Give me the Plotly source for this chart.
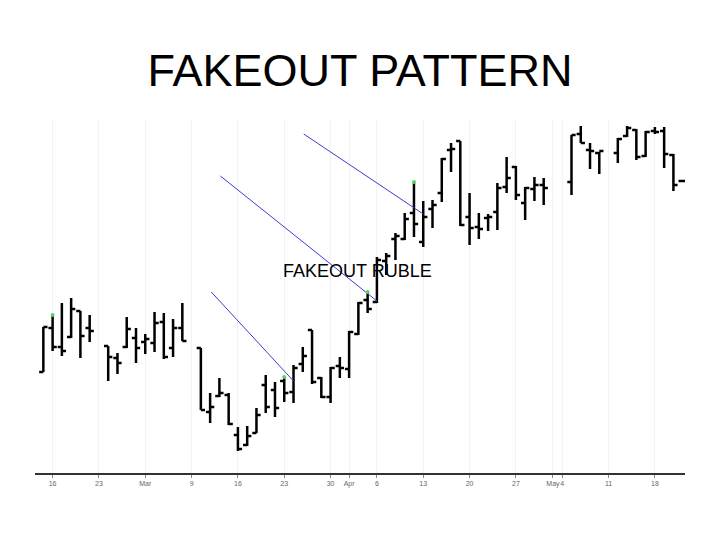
import plotly.graph_objects as go

# daily bars (price in chart units, axis hidden)
dates = ["2009-02-13", "2009-02-16", "2009-02-17", "2009-02-18", "2009-02-19", "2009-02-20",
         "2009-02-24", "2009-02-25", "2009-02-26", "2009-02-27",
         "2009-03-02", "2009-03-03", "2009-03-04", "2009-03-05", "2009-03-06",
         "2009-03-10", "2009-03-11", "2009-03-12", "2009-03-13",
         "2009-03-16", "2009-03-17", "2009-03-18", "2009-03-19", "2009-03-20",
         "2009-03-23", "2009-03-24", "2009-03-25", "2009-03-26", "2009-03-27",
         "2009-03-30", "2009-03-31", "2009-04-01", "2009-04-02", "2009-04-03",
         "2009-04-06", "2009-04-07", "2009-04-08", "2009-04-09", "2009-04-10",
         "2009-04-13", "2009-04-14", "2009-04-15", "2009-04-16", "2009-04-17",
         "2009-04-20", "2009-04-21", "2009-04-22", "2009-04-23", "2009-04-24",
         "2009-04-27", "2009-04-28", "2009-04-29", "2009-04-30",
         "2009-05-05", "2009-05-06", "2009-05-07", "2009-05-08",
         "2009-05-12", "2009-05-13", "2009-05-14", "2009-05-15",
         "2009-05-18", "2009-05-19", "2009-05-20", "2009-05-21"]

opens = [128, 172, 153, 163, 189, 172,
         154, 142, 153, 162,
         158, 157, 178, 152, 172,
         152, 88, 104, 105,
         65, 55, 67, 115, 110,
         119, 108, 136, 170, 122,
         103, 134, 131, 166, 200,
         198, 239, 261, 261, 287,
         258, 291, 307, 350, 359,
         283, 273, 282, 288, 313,
         333, 297, 311, 315,
         318, 366, 350, 347,
         347, 364, 370, 344,
         369, 369, 345, 319]

highs = [173, 186, 197, 202, 189, 185,
         154, 147, 183, 172,
         166, 188, 187, 181, 197,
         152, 107, 122, 107,
         73, 74, 92, 125, 118,
         123, 135, 153, 170, 123,
         133, 143, 169, 198, 208,
         243, 247, 267, 287, 318,
         299, 300, 342, 357, 359,
         307, 287, 286, 317, 343,
         334, 313, 323, 322,
         365, 374, 357, 348,
         362, 374, 371, 369,
         373, 373, 346, 319]

lows = [128, 149, 144, 162, 142, 158,
        119, 126, 152, 137,
        146, 148, 141, 143, 159,
        90, 77, 103, 75,
        49, 54, 67, 87, 83,
        98, 97, 128, 116, 102,
        97, 122, 122, 165, 187,
        197, 225, 240, 260, 263,
        253, 272, 298, 328, 274,
        255, 261, 269, 270, 307,
        300, 280, 299, 295,
        305, 357, 331, 326,
        337, 363, 340, 343,
        366, 332, 309, 319]

closes = [173, 153, 149, 191, 164, 169,
          143, 137, 171, 152,
          161, 177, 143, 172, 159,
          90, 93, 107, 76,
          51, 64, 85, 93, 92,
          107, 132, 144, 118, 103,
          132, 132, 168, 197, 191,
          240, 244, 264, 281, 276,
          283, 295, 341, 351, 275,
          272, 271, 283, 312, 322,
          305, 312, 315, 312,
          365, 357, 349, 349,
          361, 372, 343, 368,
          368, 346, 315, 319]

# trend lines drawn over the highs
line1_x = ["2009-03-11 03:00", "2009-03-24"]
line1_y = [208, 119]
line2_x = ["2009-03-12 02:30", "2009-04-06"]
line2_y = [324, 199]
line3_x = ["2009-03-25 02:30", "2009-04-13"]
line3_y = [366, 286]

# green marks on touched highs
touch_x = ["2009-02-16", "2009-03-23", "2009-04-03", "2009-04-10"]
touch_y = [185, 123, 208, 318]

tick_dates = ["2009-02-16", "2009-02-23", "2009-03-02", "2009-03-09", "2009-03-16",
              "2009-03-23", "2009-03-30", "2009-04-01", "2009-04-06", "2009-04-13",
              "2009-04-20", "2009-04-27", "2009-05-01", "2009-05-04", "2009-05-11",
              "2009-05-18"]
tick_labels = ["16", "23", "Mar", "9", "16", "23", "30", "Apr", "6", "13",
               "20", "27", "May", "4", "11", "18"]

fig = go.Figure()

fig.add_trace(go.Ohlc(x=dates, open=opens, high=highs, low=lows, close=closes,
                      increasing=dict(line=dict(color="black", width=2.5)),
                      decreasing=dict(line=dict(color="black", width=2.5)),
                      tickwidth=0.45, hoverinfo="skip", showlegend=False))

for lx, ly in [(line1_x, line1_y), (line2_x, line2_y), (line3_x, line3_y)]:
    fig.add_trace(go.Scatter(x=lx, y=ly, mode="lines",
                             line=dict(color="#3c3cd8", width=1),
                             hoverinfo="skip", showlegend=False))

fig.add_trace(go.Scatter(x=touch_x, y=touch_y, mode="markers",
                         marker=dict(color="#5fd35f", size=4),
                         hoverinfo="skip", showlegend=False))

fig.add_annotation(x="2009-04-01 22:00", y=229, text="FAKEOUT RUBLE",
                   showarrow=False, font=dict(size=18, color="black"))

# page body adds an 8px offset, so the figure is sized 712x532
fig.update_layout(
    width=712, height=532,
    margin={"l": 27, "r": 35, "t": 112, "b": 67},
    paper_bgcolor="white", plot_bgcolor="white",
    font=dict(family="Liberation Sans, Arial, sans-serif"),
    title=dict(text="FAKEOUT PATTERN", x=(360 - 8) / 712, xanchor="center",
               y=1 - 62 / 532, yanchor="middle", yref="container",
               font=dict(size=45, color="black")),
    xaxis=dict(type="date", rangeslider=dict(visible=False),
               rangebreaks=[dict(bounds=["sat", "mon"])],
               range=["2009-02-12 02:24", "2009-05-21 06:00"],
               tickvals=tick_dates, ticktext=tick_labels, tickangle=0,
               tickfont=dict(size=7, color="#666666"),
               ticks="outside", ticklen=3, tickcolor="#888888",
               showgrid=True, gridcolor="#f2f2f2", gridwidth=1,
               showline=True, linecolor="#333333", linewidth=1.5),
    yaxis=dict(range=[27, 380], visible=False),
)

fig.write_html("out.html")
